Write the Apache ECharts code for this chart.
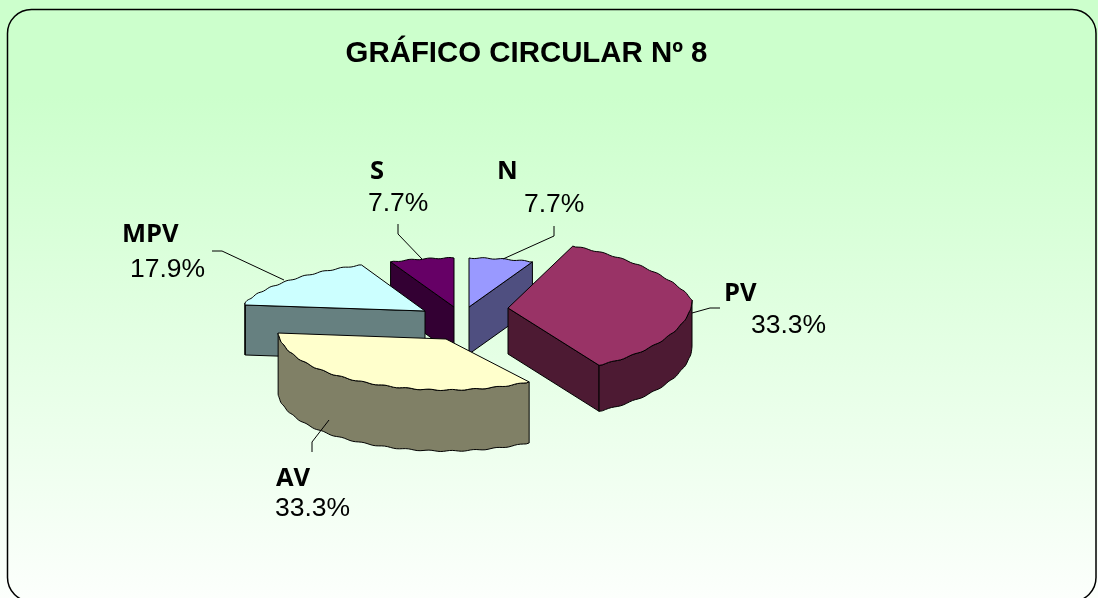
<!DOCTYPE html>
<html>
<head>
<meta charset="utf-8">
<style>html,body{margin:0;padding:0;background:#fff}#c{width:1098px;height:598px}</style>
<script src="https://cdn.jsdelivr.net/npm/echarts@6/dist/echarts.min.js"></script>
</head>
<body>
<div id="c"></div>
<script>
// ---- data ----
var titleText = 'GRÁFICO CIRCULAR Nº 8';
var categories = ['N', 'PV', 'AV', 'MPV', 'S'];
var percents = [7.7, 33.3, 33.3, 17.9, 7.7];

// ---- layout of the 3D exploded pie (one entry per slice) ----
var pieCenter = [461, 310];
var explode = [[8, -3], [47, -2], [-15, 29], [-36, 1], [-7, -3]];
var radiusX = [180, 184, 168, 180, 180];
var radiusY = [49, 68, 51, 50, 49];
var depth = [47, 46, 61, 50, 47];
var paintOrder = [2, 4, 5, 3, 1];
var topColors = ['#9999ff', '#993366', '#ffffcc', '#ccffff', '#660066'];
var sideColors = ['#4f4f80', '#4d1a33', '#808066', '#668080', '#330033'];
var farPinch = 0.275, nearPinch = 0.12, sideLift = 8, waveAmp = 0.55, waveFreq = 42;
var labelPos = [[497, 172, 524, 205], [724, 294, 751, 326], [276, 479, 275, 509], [122, 235, 130, 270], [370, 172, 368, 204]];
var leaders = [
  [[503, 259], [554, 236], [554, 226]],
  [[692, 313], [710, 308], [720, 308]],
  [[329, 420], [312, 442], [312, 452]],
  [[284, 280], [222, 251], [212, 251]],
  [[422, 259], [398, 234], [398, 224]]
];

var total = percents.reduce(function (a, b) { return a + b; }, 0);
var starts = [], acc = 0;
percents.forEach(function (v) { starts.push(acc / total * 2 * Math.PI); acc += v; });

function point(i, t, dz, wavy) {
  var s = Math.sin(t), c = Math.cos(t);
  var k = c > 0 ? 1 - farPinch * c : 1 + nearPinch * c * c * c;
  var lift = c > 0 ? s * s : Math.pow(s * s, 3);
  var w = wavy ? waveAmp * Math.sin(t * waveFreq) : 0;
  return [
    pieCenter[0] + explode[i][0] + radiusX[i] * s * k,
    pieCenter[1] + explode[i][1] - radiusY[i] * c - sideLift * lift + w + (dz || 0)
  ];
}
function apex(i, dz) {
  return [pieCenter[0] + explode[i][0], pieCenter[1] + explode[i][1] + (dz || 0)];
}
function arc(i, a, b, dz) {
  var pts = [], n = Math.max(2, Math.round((b - a) / 0.02));
  for (var j = 0; j <= n; j++) {
    var t = a + (b - a) * j / n;
    pts.push(point(i, t, dz, j > 0 && j < n));
  }
  return pts;
}
function radialVisible(i, t, mid) {
  var A = apex(i), P = point(i, t), M = point(i, mid);
  var inner = [(A[0] + M[0]) / 2, (A[1] + M[1]) / 2];
  if (Math.abs(P[0] - A[0]) < 1) return false;
  var lineY = A[1] + (P[1] - A[1]) * (inner[0] - A[0]) / (P[0] - A[0]);
  return inner[1] < lineY;
}
function poly(points, fill, z) {
  return { type: 'polygon', z2: z, shape: { points: points }, style: { fill: fill, stroke: '#000', lineWidth: 1 } };
}

function renderSlice(params, api) {
  var i = params.dataIndex, v = api.value(0);
  var a = starts[i], b = a + v / total * 2 * Math.PI, mid = (a + b) / 2;
  var d = depth[i], z = paintOrder[i] * 10, kids = [];
  [a, b].forEach(function (t) {
    if (radialVisible(i, t, mid)) {
      kids.push(poly([apex(i), point(i, t), point(i, t, d), apex(i, d)], sideColors[i], z));
    }
  });
  var fa = Math.max(a, Math.PI / 2), fb = Math.min(b, Math.PI * 1.5);
  if (fb > fa + 0.01) {
    kids.push(poly(arc(i, fa, fb, 0).concat(arc(i, fa, fb, d).reverse()), sideColors[i], z + 1));
  }
  kids.push(poly([apex(i)].concat(arc(i, a, b, 0)), topColors[i], z + 2));
  kids.push({
    type: 'polyline', z2: 80, shape: { points: leaders[i] },
    style: { fill: 'none', stroke: '#000', lineWidth: 1 }
  });
  kids.push({
    type: 'text', z2: 90,
    style: { text: categories[i], x: labelPos[i][0], y: labelPos[i][1], fill: '#000',
      font: 'bold 25.5px "Open Sans", sans-serif', textVerticalAlign: 'middle', verticalAlign: 'middle' }
  });
  kids.push({
    type: 'text', z2: 90,
    style: { text: v.toFixed(1) + '%', x: labelPos[i][2], y: labelPos[i][3], fill: '#000',
      font: '26.5px "Liberation Sans", Arial, sans-serif', textVerticalAlign: 'middle', verticalAlign: 'middle' }
  });
  return { type: 'group', children: kids };
}

var chart = echarts.init(document.getElementById('c'), null, { renderer: 'canvas', width: 1098, height: 598 });
chart.setOption({
  animation: false,
  backgroundColor: new echarts.graphic.LinearGradient(0, 0, 0, 1, [
    { offset: 0, color: '#ccffcc' },
    { offset: 0.16, color: '#ccffcc' },
    { offset: 1, color: '#fcfffc' }
  ]),
  title: {
    text: titleText, left: 521.5, top: 34, textAlign: 'center',
    textStyle: { fontFamily: '"Liberation Sans", Arial, sans-serif', fontWeight: 'bold', fontSize: 29.4, color: '#000' }
  },
  graphic: [{
    type: 'rect', silent: true, z: 0,
    shape: { x: 7.5, y: 9.5, width: 1088.5, height: 592, r: 24 },
    style: { fill: 'none', stroke: '#000', lineWidth: 1.5 }
  }],
  series: [{
    type: 'custom', coordinateSystem: 'none', silent: true, clip: false,
    renderItem: renderSlice,
    data: percents.map(function (v) { return [v]; }),
    encode: { value: 0 }
  }]
});
</script>
</body>
</html>
